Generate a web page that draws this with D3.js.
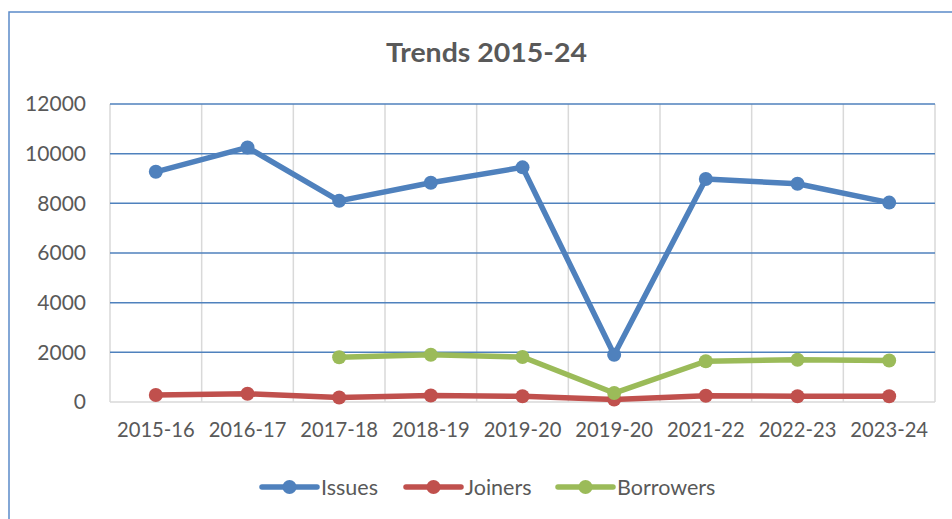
<!DOCTYPE html>
<html>
<head>
<meta charset="utf-8">
<script src="https://cdn.jsdelivr.net/npm/d3@7"></script>
<style>
  html, body { margin: 0; padding: 0; background: #fff; }
  svg { display: block; }
  text { font-family: Lato, "Open Sans", sans-serif; fill: #595959; }
</style>
</head>
<body>
<svg id="chart" width="952" height="519"></svg>
<script>
const categories = ["2015-16", "2016-17", "2017-18", "2018-19", "2019-20", "2019-20", "2021-22", "2022-23", "2023-24"];
const issues    = [9270, 10250, 8100, 8830, 9450, 1900, 8980, 8790, 8030];
const joiners   = [280, 330, 180, 260, 230, 100, 250, 230, 230];
const borrowers = [null, null, 1800, 1900, 1810, 360, 1640, 1700, 1670];
const yTicks    = [0, 2000, 4000, 6000, 8000, 10000, 12000];
const seriesNames  = ["Issues", "Joiners", "Borrowers"];
const seriesColors = ["#4f81bd", "#c0504d", "#9bbb59"];
const title = "Trends 2015-24";

const series = [issues, joiners, borrowers];
const svg = d3.select("#chart");

// outer chart border
svg.append("rect")
  .attr("x", 9).attr("y", 12).attr("width", 1000).attr("height", 600)
  .attr("fill", "none").attr("stroke", "#5b8bc9").attr("stroke-width", 1.5);

const pLeft = 110, pRight = 935, pTop = 104, pBottom = 402;
const x = d3.scaleBand().domain(d3.range(categories.length)).range([pLeft, pRight]).padding(0);
const y = d3.scaleLinear().domain([0, 12000]).range([pBottom, pTop]);
const cx = i => x(i) + x.bandwidth() / 2;

// vertical gridlines at band boundaries
const bounds = d3.range(categories.length + 1).map(i => pLeft + i * x.bandwidth());
svg.append("g").selectAll("line").data(bounds).join("line")
  .attr("x1", d => d).attr("x2", d => d)
  .attr("y1", pTop).attr("y2", pBottom)
  .attr("stroke", "#d9d9d9").attr("stroke-width", 1.5);

// horizontal gridlines
svg.append("g").selectAll("line").data(yTicks.filter(v => v > 0)).join("line")
  .attr("x1", pLeft).attr("x2", pRight)
  .attr("y1", d => y(d)).attr("y2", d => y(d))
  .attr("stroke", "#4f81bd").attr("stroke-width", 1.5);

// x axis baseline
svg.append("line")
  .attr("x1", pLeft).attr("x2", pRight).attr("y1", pBottom).attr("y2", pBottom)
  .attr("stroke", "#d9d9d9").attr("stroke-width", 1.5);

// y axis
const yAxis = svg.append("g").attr("transform", `translate(${pLeft},0)`)
  .call(d3.axisLeft(y).tickValues(yTicks).tickSize(0).tickPadding(24).tickFormat(d3.format("d")));
yAxis.select(".domain").remove();
yAxis.selectAll("text").style("font-size", "21px").style("fill", "#595959")
  .style("font-family", "Lato, sans-serif");

// x axis
const xAxis = svg.append("g").attr("transform", `translate(0,${pBottom})`)
  .call(d3.axisBottom(x).tickSize(0).tickPadding(21).tickFormat(i => categories[i]));
xAxis.select(".domain").remove();
xAxis.selectAll("text").style("font-size", "20.2px").style("fill", "#595959")
  .style("font-family", "Lato, sans-serif");

// lines & markers
series.forEach((vals, si) => {
  const line = d3.line()
    .defined(d => d != null)
    .x((d, i) => cx(i)).y(d => y(d));
  svg.append("path").datum(vals)
    .attr("d", line)
    .attr("fill", "none").attr("stroke", seriesColors[si])
    .attr("stroke-width", 5.5).attr("stroke-linejoin", "round").attr("stroke-linecap", "round");
  svg.append("g").selectAll("circle")
    .data(vals.map((v, i) => ({ v, i })).filter(d => d.v != null))
    .join("circle")
    .attr("cx", d => cx(d.i)).attr("cy", d => y(d.v)).attr("r", 7)
    .attr("fill", seriesColors[si]);
});

// title
svg.append("text")
  .attr("x", 486.5).attr("y", 62).attr("text-anchor", "middle")
  .attr("textLength", 201).attr("lengthAdjust", "spacingAndGlyphs")
  .style("font-size", "27px").style("font-weight", "bold").style("fill", "#595959")
  .text(title);

// legend
const legendX = [262, 406, 558];
seriesNames.forEach((name, i) => {
  const g = svg.append("g").attr("transform", `translate(${legendX[i]},487)`);
  g.append("line").attr("x1", 0).attr("x2", 55).attr("y1", 0).attr("y2", 0)
    .attr("stroke", seriesColors[i]).attr("stroke-width", 5.5).attr("stroke-linecap", "round");
  g.append("circle").attr("cx", 27.5).attr("cy", 0).attr("r", 7).attr("fill", seriesColors[i]);
  g.append("text").attr("x", 59).attr("y", 8).style("font-size", "21.5px").style("fill", "#595959").text(name);
});
</script>
</body>
</html>
